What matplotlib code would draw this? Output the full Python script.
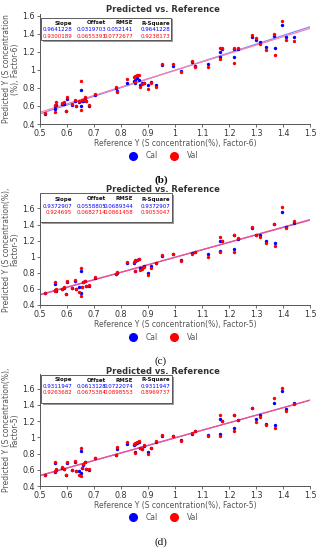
import matplotlib
matplotlib.use("Agg")
import matplotlib.pyplot as plt
from matplotlib.patches import Rectangle
from matplotlib.lines import Line2D

# ---------------- data ----------------
reference = [0.518, 0.555, 0.555, 0.56, 0.58, 0.59, 0.595, 0.60, 0.62, 0.63, 0.635, 0.645,
             0.65, 0.65, 0.655, 0.66, 0.665, 0.67, 0.68, 0.705, 0.78, 0.785, 0.824, 0.848,
             0.85, 0.853, 0.86, 0.866, 0.872, 0.878, 0.884, 0.90, 0.911, 0.93, 0.95, 0.994,
             1.023, 1.063, 1.075, 1.123, 1.166, 1.166, 1.174, 1.218, 1.218, 1.234, 1.286,
             1.30, 1.315, 1.336, 1.365, 1.37, 1.398, 1.41, 1.44]

cal_b = [0.51, 0.57, 0.60, 0.615, 0.625, 0.625, 0.545, 0.68, 0.61, 0.66, 0.60, 0.64,
         0.78, 0.60, 0.66, 0.66, 0.69, 0.655, 0.60, 0.72, 0.80, 0.765, 0.86, 0.88,
         0.86, 0.89, 0.91, 0.89, 0.83, 0.85, 0.85, 0.83, 0.87, 0.83, 1.05, 1.04,
         0.99, 1.09, 1.04, 1.07, 1.20, 1.14, 1.23, 1.14, 1.23, 1.23, 1.37,
         1.33, 1.31, 1.25, 1.38, 1.24, 1.50, 1.36, 1.37]
val_b = [0.525, 0.535, 0.61, 0.64, 0.63, 0.645, 0.545, 0.695, 0.62, 0.67, 0.60, 0.655,
         0.875, 0.55, 0.665, 0.67, 0.695, 0.66, 0.61, 0.73, 0.81, 0.76, 0.90, 0.92,
         0.87, 0.93, 0.94, 0.94, 0.81, 0.84, 0.85, 0.79, 0.85, 0.81, 1.07, 1.07,
         0.975, 1.10, 1.03, 1.03, 1.24, 1.12, 1.24, 1.08, 1.24, 1.24, 1.39,
         1.35, 1.29, 1.22, 1.40, 1.17, 1.54, 1.33, 1.32]

cal_c = [0.55, 0.66, 0.59, 0.57, 0.60, 0.61, 0.54, 0.69, 0.61, 0.70, 0.60, 0.62,
         0.82, 0.55, 0.62, 0.68, 0.70, 0.64, 0.64, 0.74, 0.78, 0.80, 0.92, 0.92,
         0.82, 0.95, 0.96, 0.97, 0.86, 0.86, 0.88, 0.80, 0.88, 0.92, 1.01, 1.03,
         0.96, 1.05, 1.06, 1.03, 1.19, 1.07, 1.19, 1.09, 1.27, 1.22, 1.36,
         1.27, 1.27, 1.19, 1.41, 1.17, 1.55, 1.37, 1.42]
val_c = [0.55, 0.68, 0.58, 0.60, 0.60, 0.62, 0.54, 0.70, 0.61, 0.71, 0.60, 0.56,
         0.86, 0.51, 0.62, 0.68, 0.70, 0.64, 0.65, 0.75, 0.79, 0.81, 0.94, 0.94,
         0.82, 0.96, 0.96, 0.97, 0.84, 0.85, 0.87, 0.77, 0.86, 0.92, 1.02, 1.03,
         0.95, 1.04, 1.06, 1.00, 1.24, 1.06, 1.19, 1.06, 1.27, 1.23, 1.37,
         1.27, 1.25, 1.17, 1.41, 1.13, 1.62, 1.36, 1.44]

cal_d = [0.54, 0.68, 0.57, 0.60, 0.62, 0.61, 0.54, 0.68, 0.60, 0.70, 0.59, 0.59,
         0.83, 0.56, 0.62, 0.66, 0.69, 0.61, 0.60, 0.74, 0.78, 0.85, 0.92, 0.91,
         0.82, 0.92, 0.93, 0.94, 0.87, 0.86, 0.89, 0.82, 0.87, 0.94, 1.01, 1.01,
         0.97, 1.04, 1.08, 1.03, 1.22, 1.04, 1.20, 1.11, 1.27, 1.21, 1.36,
         1.22, 1.27, 1.17, 1.42, 1.15, 1.57, 1.35, 1.42]
val_d = [0.54, 0.70, 0.58, 0.61, 0.63, 0.61, 0.54, 0.70, 0.60, 0.71, 0.59, 0.54,
         0.87, 0.52, 0.62, 0.67, 0.69, 0.61, 0.61, 0.75, 0.78, 0.88, 0.94, 0.92,
         0.81, 0.93, 0.94, 0.96, 0.87, 0.85, 0.90, 0.80, 0.87, 0.96, 1.03, 1.02,
         0.96, 1.05, 1.08, 1.02, 1.28, 1.02, 1.20, 1.08, 1.27, 1.21, 1.36,
         1.19, 1.25, 1.15, 1.48, 1.11, 1.61, 1.33, 1.41]

table_header = ["Slope", "Offset", "RMSE", "R-Square"]
stats_b_cal = ["0.9641228", "0.0319703", "0.052141", "0.9641228"]
stats_b_val = ["0.9300189", "0.0655393", "0.0772677", "0.9238173"]
stats_c_cal = ["0.9372907", "0.0558805", "0.0689344", "0.9372907"]
stats_c_val = ["0.924695", "0.0682714", "0.0861458", "0.9053047"]
stats_d_cal = ["0.9311947", "0.0613128", "0.0722074", "0.9311947"]
stats_d_val = ["0.9263682", "0.0675384", "0.0898553", "0.8969737"]

xlabels = ["Reference Y (S concentration(%), Factor-6)",
           "Reference Y (S concentration(%), Factor-5)",
           "Reference Y (S concentration(%), Factor-5)"]
ylabels = ["Predicted Y (S concentration\n(%), Factor-6)",
           "Predicted Y (S concentration(%),\nFactor-5)",
           "Predicted Y (S concentration(%),\nFactor-5)"]
captions = ["(b)", "(c)", "(d)"]
legend_labels = ["Cal", "Val"]
xticks = [0.5, 0.6, 0.7, 0.8, 0.9, 1.0, 1.1, 1.2, 1.3, 1.4, 1.5]
xticklabels = ["0.5", "0.6", "0.7", "0.8", "0.9", "1", "1.1", "1.2", "1.3", "1.4", "1.5"]
yticks = [0.4, 0.6, 0.8, 1.0, 1.2, 1.4, 1.6]
yticklabels = ["0.4", "0.6", "0.8", "1", "1.2", "1.4", "1.6"]

# ---------------- layout ----------------
W, H = 319, 550
fig = plt.figure(figsize=(W / 100, H / 100), dpi=100)
fig.patch.set_facecolor("white")

BLUE = "#0000ff"
RED = "#ff0000"

panels = [
    dict(cal=cal_b, val=val_b, sc=stats_b_cal, sv=stats_b_val, top=14, bot=124, ymax=1.62,
         title_y=10, box=(41, 18, 171, 40), rows=(23, 29.5, 36),
         leg_y=156, cap_y=180, cap_bold=True,
         lcol_cal="#7f8cff", lcol_val="#ff7fa6"),
    dict(cal=cal_c, val=val_c, sc=stats_c_cal, sv=stats_c_val, top=194, bot=305, ymax=1.78,
         title_y=190, box=(40, 193, 172, 222), rows=(199, 206, 213),
         leg_y=337, cap_y=361, cap_bold=False,
         lcol_cal="#c060c0", lcol_val="#f05090"),
    dict(cal=cal_d, val=val_d, sc=stats_d_cal, sv=stats_d_val, top=374, bot=486, ymax=1.78,
         title_y=371, box=(41, 375, 172, 403), rows=(380, 386.5, 393),
         leg_y=517, cap_y=542, cap_bold=False,
         lcol_cal="#c060c0", lcol_val="#f05090"),
]

left_px, right_px = 40, 310

def fx(px):
    return px / W

def fy(py):
    return 1 - py / H

for i, p in enumerate(panels):
    ax = fig.add_axes([fx(left_px), fy(p["bot"]), fx(right_px - left_px),
                       (p["bot"] - p["top"]) / H])
    ax.set_xlim(0.5, 1.5)
    ax.set_ylim(0.4, p["ymax"])
    for s in ["top", "right"]:
        ax.spines[s].set_visible(False)
    for s in ["left", "bottom"]:
        ax.spines[s].set_color("#555555")
        ax.spines[s].set_linewidth(0.7)
    ax.set_xticks(xticks)
    ax.set_xticklabels(xticklabels)
    ax.set_yticks(yticks)
    ax.set_yticklabels(yticklabels)
    ax.tick_params(labelsize=5.8, length=2, width=0.5, pad=1.5, colors="#333333")

    # regression lines from table slope/offset
    xs = [0.5, 1.5]
    sl_c, of_c = float(p["sc"][0]), float(p["sc"][1])
    sl_v, of_v = float(p["sv"][0]), float(p["sv"][1])
    ax.plot(xs, [sl_c * x + of_c for x in xs], color=p["lcol_cal"], lw=0.9, zorder=2)
    ax.plot(xs, [sl_v * x + of_v for x in xs], color=p["lcol_val"], lw=0.9, zorder=2)

    ax.scatter(reference, p["cal"], s=6, color=BLUE, linewidths=0, zorder=3)
    ax.scatter(reference, p["val"], s=6, color=RED, linewidths=0, zorder=4)

    ax.set_xlabel(xlabels[i], fontsize=5.5, color="#555555", labelpad=1)
    ax.set_ylabel(ylabels[i], fontsize=5.5, color="#555555", labelpad=2, linespacing=1.0)

    # title
    fig.text(fx(163), fy(p["title_y"]), "Predicted vs. Reference", ha="center", va="center",
             fontsize=6, fontweight="bold", color="#333333")

    # stats box
    x0, y0, x1, y1 = p["box"]
    fig.patches.append(Rectangle((fx(x0 + 1.5), fy(y1 + 1.5)), fx(x1 - x0), (y1 - y0) / H,
                                 transform=fig.transFigure, facecolor="#9a9a9a",
                                 edgecolor="none", zorder=5))
    fig.patches.append(Rectangle((fx(x0), fy(y1)), fx(x1 - x0), (y1 - y0) / H,
                                 transform=fig.transFigure, facecolor="white",
                                 edgecolor="#444444", linewidth=0.6, zorder=6))
    col_right = [72, 106, 133, 170]
    for j in range(4):
        fig.text(fx(col_right[j]), fy(p["rows"][0]), table_header[j], ha="right", va="center",
                 fontsize=4, fontweight="bold", color="#111111", zorder=7)
        fig.text(fx(col_right[j]), fy(p["rows"][1]), p["sc"][j], ha="right", va="center",
                 fontsize=4, color=BLUE, zorder=7)
        fig.text(fx(col_right[j]), fy(p["rows"][2]), p["sv"][j], ha="right", va="center",
                 fontsize=4, color=RED, zorder=7)

    # legend
    fig.add_artist(Line2D([fx(133)], [fy(p["leg_y"])], marker="o", markersize=5.5,
                          color=BLUE, linestyle="none", transform=fig.transFigure))
    fig.text(fx(146), fy(p["leg_y"]), legend_labels[0], ha="left", va="center",
             fontsize=5.5, color="#555555")
    fig.add_artist(Line2D([fx(174)], [fy(p["leg_y"])], marker="o", markersize=5.5,
                          color=RED, linestyle="none", transform=fig.transFigure))
    fig.text(fx(187), fy(p["leg_y"]), legend_labels[1], ha="left", va="center",
             fontsize=5.5, color="#555555")

    # caption
    fig.text(fx(161), fy(p["cap_y"]), captions[i], ha="center", va="center",
             fontsize=8, family="Liberation Serif",
             fontweight="bold" if p["cap_bold"] else "normal", color="#111111")

fig.savefig("out.png", dpi=100)
